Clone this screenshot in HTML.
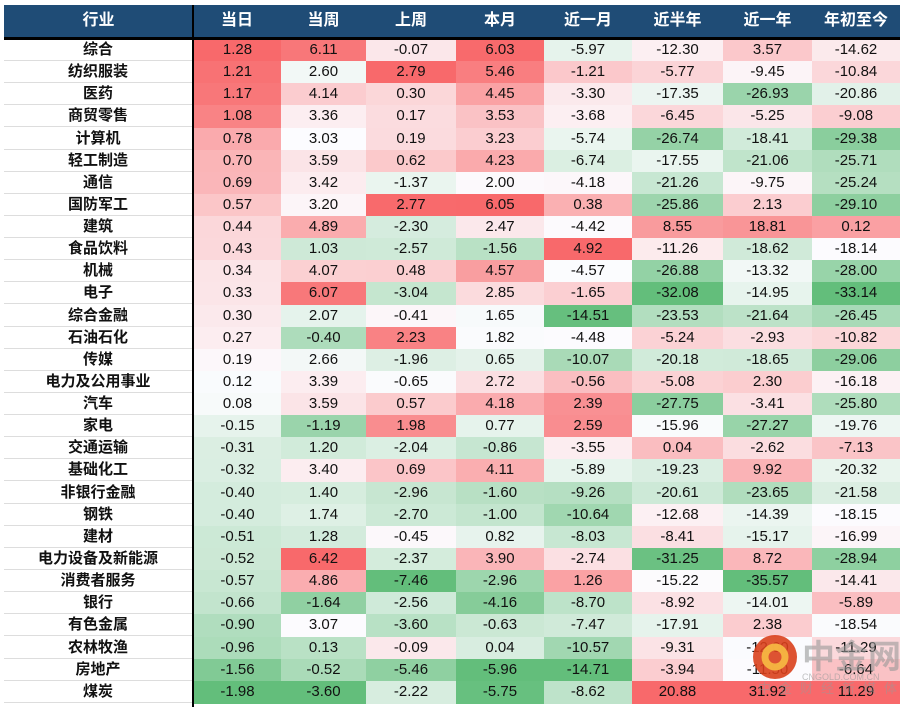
<!DOCTYPE html>
<html><head><meta charset="utf-8">
<style>
html,body{margin:0;padding:0;background:#fff;width:907px;height:707px;overflow:hidden;}
body{font-family:"Liberation Sans","Noto Sans CJK SC",sans-serif;position:relative;}
#hdr{position:absolute;left:4px;top:5px;width:896px;height:32px;background:#1f4c76;}
.h{position:absolute;top:5px;height:32px;line-height:32px;color:#fff;font-size:16px;font-weight:bold;text-align:center;}
#hline{position:absolute;left:4px;top:37px;width:896px;height:3px;background:#000;}
#vline{position:absolute;left:192px;top:5px;width:2px;height:702px;background:#000;}
.c{position:absolute;height:22px;line-height:22px;text-align:center;font-size:15px;color:#111;}
.n{font-weight:bold;font-size:15px;border-bottom:1px solid #ddd;box-sizing:border-box;}
#wm{position:absolute;left:750px;top:630px;width:157px;height:77px;}
</style></head><body>
<div id="hdr"></div>
<div id="table"></div>
<div id="hline"></div>
<div id="vline"></div>
<svg id="wm" viewBox="0 0 157 77">
<circle cx="25" cy="27" r="22" fill="#d9401c" opacity="0.9"/>
<circle cx="25" cy="27" r="10" fill="none" stroke="#f5b642" stroke-width="7" opacity="0.95"/>
<text x="52" y="38" font-size="33" font-weight="bold" fill="#999" opacity="0.6" font-family="Noto Sans CJK SC, sans-serif">中金网</text>
<text x="52" y="50" font-size="9" fill="#999" opacity="0.6">CNGOLD.COM.CN</text>
<text x="8" y="63" font-size="13" fill="#999" opacity="0.5" letter-spacing="8" font-family="Noto Sans CJK SC, sans-serif">中金财经新媒体</text>
</svg>
<script>
const headers=["当日","当周","上周","本月","近一月","近半年","近一年","年初至今"];
const industries=["综合","纺织服装","医药","商贸零售","计算机","轻工制造","通信","国防军工","建筑","食品饮料","机械","电子","综合金融","石油石化","传媒","电力及公用事业","汽车","家电","交通运输","基础化工","非银行金融","钢铁","建材","电力设备及新能源","消费者服务","银行","有色金属","农林牧渔","房地产","煤炭"];
const colDay=[1.28,1.21,1.17,1.08,0.78,0.70,0.69,0.57,0.44,0.43,0.34,0.33,0.30,0.27,0.19,0.12,0.08,-0.15,-0.31,-0.32,-0.40,-0.40,-0.51,-0.52,-0.57,-0.66,-0.90,-0.96,-1.56,-1.98];
const colWeek=[6.11,2.60,4.14,3.36,3.03,3.59,3.42,3.20,4.89,1.03,4.07,6.07,2.07,-0.40,2.66,3.39,3.59,-1.19,1.20,3.40,1.40,1.74,1.28,6.42,4.86,-1.64,3.07,0.13,-0.52,-3.60];
const colLastWeek=[-0.07,2.79,0.30,0.17,0.19,0.62,-1.37,2.77,-2.30,-2.57,0.48,-3.04,-0.41,2.23,-1.96,-0.65,0.57,1.98,-2.04,0.69,-2.96,-2.70,-0.45,-2.37,-7.46,-2.56,-3.60,-0.09,-5.46,-2.22];
const colMonth=[6.03,5.46,4.45,3.53,3.23,4.23,2.00,6.05,2.47,-1.56,4.57,2.85,1.65,1.82,0.65,2.72,4.18,0.77,-0.86,4.11,-1.60,-1.00,0.82,3.90,-2.96,-4.16,-0.63,0.04,-5.96,-5.75];
const col1M=[-5.97,-1.21,-3.30,-3.68,-5.74,-6.74,-4.18,0.38,-4.42,4.92,-4.57,-1.65,-14.51,-4.48,-10.07,-0.56,2.39,2.59,-3.55,-5.89,-9.26,-10.64,-8.03,-2.74,1.26,-8.70,-7.47,-10.57,-14.71,-8.62];
const col6M=[-12.30,-5.77,-17.35,-6.45,-26.74,-17.55,-21.26,-25.86,8.55,-11.26,-26.88,-32.08,-23.53,-5.24,-20.18,-5.08,-27.75,-15.96,0.04,-19.23,-20.61,-12.68,-8.41,-31.25,-15.22,-8.92,-17.91,-9.31,-3.94,20.88];
const col1Y=[3.57,-9.45,-26.93,-5.25,-18.41,-21.06,-9.75,2.13,18.81,-18.62,-13.32,-14.95,-21.64,-2.93,-18.65,2.30,-3.41,-27.27,-2.62,9.92,-23.65,-14.39,-15.17,8.72,-35.57,-14.01,2.38,-12.00,-11.50,31.92];
const colYTD=[-14.62,-10.84,-20.86,-9.08,-29.38,-25.71,-25.24,-29.10,0.12,-18.14,-28.00,-33.14,-26.45,-10.82,-29.06,-16.18,-25.80,-19.76,-7.13,-20.32,-21.58,-18.15,-16.99,-28.94,-14.41,-5.89,-18.54,-11.29,-6.64,11.29];
const columns=[colDay,colWeek,colLastWeek,colMonth,col1M,col6M,col1Y,colYTD];
const colNames=["day","week","last-week","month","1m","6m","1y","ytd"];
const edges=[193,281,366,456,544,632,723,812,900];
const top0=39,rh=22.13;
const T=document.getElementById('table');
function mix(a,b,t){return a.map((v,i)=>Math.round(v+(b[i]-v)*t));}
function colorFor(v,arr){
  const s=[...arr].sort((a,b)=>a-b);const mn=s[0],mx=s[s.length-1];
  const md=(s[14]+s[15])/2;
  const W=[252,252,255],R=[248,105,107],G=[99,190,123];
  let c;
  if(v>=md){c=mix(W,R,mx===md?0:(v-md)/(mx-md));}else{c=mix(W,G,(md-v)/(md-mn));}
  return `rgb(${c[0]},${c[1]},${c[2]})`;
}
const h0=document.createElement('div');h0.className='h';h0.textContent='行业';
h0.style.left='4px';h0.style.width='189px';


document.body.appendChild(h0);
headers.forEach((h,j)=>{
  const d=document.createElement('div');d.className='h';d.textContent=h;
  d.style.left=edges[j]+'px';d.style.width=(edges[j+1]-edges[j])+'px';
  
  
  document.body.appendChild(d);
});
industries.forEach((name,i)=>{
  const y=top0+i*rh;
  const n=document.createElement('div');n.className='c n';n.textContent=name;
  n.style.left='4px';n.style.width='188px';n.style.top=y+'px';
  
  
  T.appendChild(n);
  columns.forEach((col,j)=>{
    const v=col[i];
    const d=document.createElement('div');d.className='c';
    d.textContent=v.toFixed(2);
    d.style.left=(edges[j]+(j==0?1:0))+'px';d.style.width=(edges[j+1]-edges[j]-(j==0?1:0))+'px';
    d.style.top=y+'px';d.style.height=Math.ceil(rh)+'px';
    d.style.background=colorFor(v,col);
    
    
    T.appendChild(d);
  });
});
</script>
</body></html>
